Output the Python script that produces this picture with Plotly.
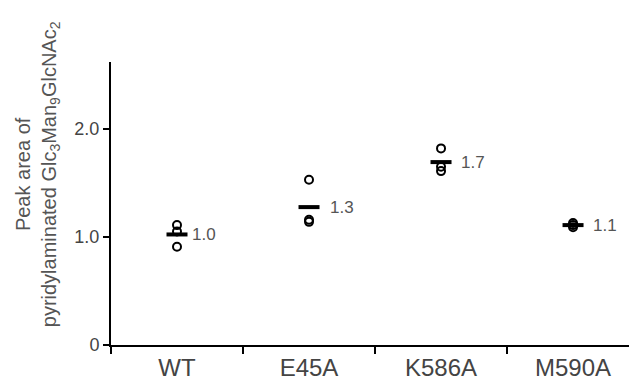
import plotly.graph_objects as go

# Peak areas (three replicates per variant)
variants = ["WT", "E45A", "K586A", "M590A"]
replicates = [
    [1.11, 1.05, 0.91],
    [1.53, 1.16, 1.14],
    [1.82, 1.65, 1.61],
    [1.13, 1.11, 1.09],
]
y_ticks = [0, 1, 2]
y_tick_labels = ["0", "1.0", "2.0"]

means = [sum(r) / len(r) for r in replicates]
label_shift = [13, 19, 18, 18]

FONT = "Liberation Sans, Arial, sans-serif"

fig = go.Figure()

# individual replicate points
pts_x, pts_y = [], []
for v, vals in zip(variants, replicates):
    pts_x += [v] * len(vals)
    pts_y += vals
fig.add_trace(go.Scatter(
    x=pts_x, y=pts_y, mode="markers",
    marker=dict(symbol="circle-open", size=8, color="black",
                line=dict(width=2, color="black")),
    showlegend=False, hoverinfo="skip",
))

# mean bars (line-ew spans 1.4 x size)
fig.add_trace(go.Scatter(
    x=variants, y=means, mode="markers",
    marker=dict(symbol="line-ew", size=15, color="black",
                line=dict(width=4, color="black")),
    showlegend=False, hoverinfo="skip",
))

# mean value labels
for v, m, dx in zip(variants, means, label_shift):
    fig.add_annotation(
        x=v, y=m, text=f"{m:.1f}", showarrow=False,
        xanchor="left", yanchor="middle", xshift=dx,
        font=dict(family=FONT, size=17, color="#555555"),
    )

# y-axis title, two lines
fig.add_annotation(
    xref="paper", yref="paper", x=-0.142, y=0.605,
    text="Peak area of<br>pyridylaminated Glc<sub>3</sub>Man<sub>9</sub>GlcNAc<sub>2</sub>",
    showarrow=False, textangle=-90, align="center",
    xanchor="center", yanchor="middle",
    font=dict(family=FONT, size=20, color="#555555"),
)

fig.update_xaxes(
    type="category", categoryorder="array", categoryarray=variants,
    range=[-0.5, 3.424], tickson="boundaries",
    ticks="outside", ticklen=7, tickwidth=2, tickcolor="black",
    ticklabelstandoff=0, automargin=False,
    showline=True, linewidth=2, linecolor="black",
    showgrid=False, zeroline=False,
    tickfont=dict(family=FONT, size=24, color="#444444"),
)
fig.update_yaxes(
    range=[0, 2.62], tickvals=y_ticks, ticktext=y_tick_labels,
    ticks="outside", ticklen=6, tickwidth=2, tickcolor="black",
    automargin=False,
    showline=True, linewidth=2, linecolor="black",
    showgrid=False, zeroline=False,
    tickfont=dict(family=FONT, size=18, color="#444444"),
)

fig.update_layout(
    width=629, height=376,
    margin=dict(l=111, r=0, t=62, b=31),
    paper_bgcolor="white", plot_bgcolor="white",
)

fig.write_html("out.html")
